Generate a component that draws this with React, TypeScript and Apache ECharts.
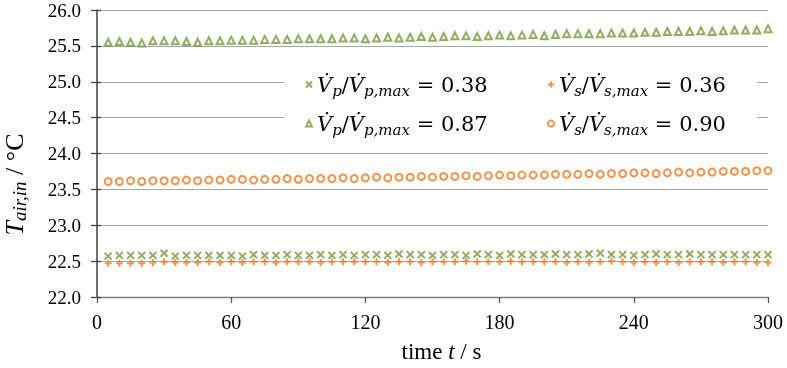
import React, { useEffect, useRef } from "react";
import * as echarts from "echarts";

const times = [5,10,15,20,25,30,35,40,45,50,55,60,65,70,75,80,85,90,95,100,105,110,115,120,125,130,135,140,145,150,155,160,165,170,175,180,185,190,195,200,205,210,215,220,225,230,235,240,245,250,255,260,265,270,275,280,285,290,295,300];

const xTicks = [0, 60, 120, 180, 240, 300];

// V_p/V_p,max = 0.38
const vp038 = [
  22.57, 22.58, 22.58, 22.58, 22.58, 22.61, 22.57, 22.58, 22.58, 22.58,
  22.58, 22.58, 22.57, 22.59, 22.58, 22.58, 22.59, 22.58, 22.58, 22.59,
  22.58, 22.59, 22.58, 22.59, 22.59, 22.58, 22.60, 22.59, 22.59, 22.58,
  22.59, 22.59, 22.58, 22.60, 22.59, 22.58, 22.60, 22.59, 22.59, 22.59,
  22.60, 22.59, 22.59, 22.60, 22.61, 22.59, 22.59, 22.58, 22.59, 22.60,
  22.59, 22.59, 22.60, 22.59, 22.59, 22.59, 22.59, 22.59, 22.59, 22.59,
];
// V_s/V_s,max = 0.36
const vs036 = [
  22.47, 22.47, 22.47, 22.47, 22.48, 22.49, 22.48, 22.48, 22.48, 22.49,
  22.48, 22.49, 22.48, 22.49, 22.49, 22.48, 22.49, 22.49, 22.49, 22.48,
  22.49, 22.49, 22.49, 22.49, 22.49, 22.48, 22.49, 22.49, 22.48, 22.49,
  22.49, 22.49, 22.50, 22.49, 22.49, 22.49, 22.50, 22.49, 22.49, 22.49,
  22.49, 22.48, 22.49, 22.48, 22.49, 22.50, 22.49, 22.48, 22.49, 22.48,
  22.49, 22.48, 22.49, 22.49, 22.49, 22.48, 22.49, 22.49, 22.48, 22.48,
];
// V_p/V_p,max = 0.87
const vp087 = [
  25.55, 25.56, 25.55, 25.54, 25.57, 25.57, 25.57, 25.56, 25.55, 25.57,
  25.57, 25.58, 25.58, 25.58, 25.59, 25.59, 25.59, 25.60, 25.60, 25.60,
  25.60, 25.61, 25.61, 25.60, 25.61, 25.62, 25.61, 25.62, 25.63, 25.62,
  25.63, 25.64, 25.64, 25.63, 25.64, 25.65, 25.64, 25.65, 25.66, 25.64,
  25.66, 25.67, 25.67, 25.67, 25.67, 25.68, 25.68, 25.68, 25.69, 25.69,
  25.70, 25.70, 25.70, 25.71, 25.70, 25.71, 25.72, 25.72, 25.72, 25.74,
];
// V_s/V_s,max = 0.90
const vs090 = [
  23.61, 23.61, 23.62, 23.61, 23.62, 23.62, 23.62, 23.63, 23.62, 23.63,
  23.63, 23.64, 23.64, 23.63, 23.64, 23.64, 23.65, 23.64, 23.65, 23.65,
  23.65, 23.66, 23.65, 23.66, 23.67, 23.66, 23.67, 23.67, 23.68, 23.67,
  23.68, 23.68, 23.69, 23.68, 23.69, 23.70, 23.69, 23.70, 23.70, 23.70,
  23.71, 23.71, 23.71, 23.72, 23.71, 23.72, 23.72, 23.73, 23.73, 23.72,
  23.73, 23.74, 23.73, 23.74, 23.74, 23.75, 23.75, 23.75, 23.76, 23.76,
];

const seriesLabels: Record<string, [string, string, string]> = {
  p038: ["p", "p,max", "0.38"],
  s036: ["s", "s,max", "0.36"],
  p087: ["p", "p,max", "0.87"],
  s090: ["s", "s,max", "0.90"],
};

const GREEN = "#76983A";
const ORANGE = "#F07820";
const SERIF = "Liberation Serif";
const MATH = "DejaVu Serif";

const pair = (vals: number[]) => vals.map((v, i) => [times[i], v]);

export default function App() {
  const ref = useRef<HTMLDivElement>(null);
  useEffect(() => {
    if (!ref.current) return;
    const chart = echarts.init(ref.current, undefined, { renderer: "svg" });
    const V = "V\u0307";
    const legendRich = {
      v: { fontFamily: MATH, fontStyle: "italic", fontSize: 21, lineHeight: 28, verticalAlign: "middle", color: "#000" },
      sub: { fontFamily: MATH, fontStyle: "italic", fontSize: 15, lineHeight: 15, padding: [12, 0, 0, 0], verticalAlign: "middle", color: "#000" },
      n: { fontFamily: MATH, fontSize: 21, lineHeight: 28, verticalAlign: "middle", color: "#000" },
    };
    const fmt = (name: string) => {
      const [a, b, val] = seriesLabels[name];
      return `{v|${V}}{sub|${a}}{n|/}{v|${V}}{sub|${b}}{n| = ${val}}`;
    };
    chart.setOption({
      animation: false,
      grid: { left: 97, right: 19, top: 10, bottom: 71, containLabel: false, outerBoundsMode: "none" },
      graphic: [
        { type: "rect", z: 1, shape: { x: 284, y: 58, width: 473, height: 84 }, style: { fill: "#fff" } },
      ],
      legend: [
        {
          data: ["p038", "p087"], orient: "vertical", left: 300, top: 66, itemGap: 12,
          itemWidth: 6, itemHeight: 6, formatter: fmt, textStyle: { rich: legendRich }, z: 5,
        },
        {
          data: ["s036", "s090"], orient: "vertical", left: 542, top: 66, itemGap: 12,
          itemWidth: 6, itemHeight: 6, formatter: fmt, textStyle: { rich: legendRich }, z: 5,
        },
      ],
      xAxis: {
        type: "value", min: 0, max: 300, interval: 60,
        axisLine: { show: true, lineStyle: { color: "#7F7F7F", width: 1.3 } },
        axisTick: { show: true, length: 6, lineStyle: { color: "#595959", width: 1.3 } },
        axisLabel: { margin: 15, fontFamily: SERIF, fontSize: 20, color: "#000", customValues: xTicks, formatter: (v: number) => String(v) },
        splitLine: { show: false },
        name: "{n|time }{i|t}{n| / s}",
        nameLocation: "middle", nameGap: 43,
        nameTextStyle: {
          padding: [0, 0, 0, 18],
          rich: { n: { fontFamily: SERIF, fontSize: 23, color: "#000" }, i: { fontFamily: SERIF, fontStyle: "italic", fontSize: 23, color: "#000" } },
        },
      },
      yAxis: [
        {
          type: "value", min: 22, max: 26, interval: 0.5,
          axisLine: { show: true, lineStyle: { color: "#404040", width: 1.5 } },
          axisTick: { show: true, length: 6, lineStyle: { color: "#404040", width: 1.3 } },
          axisLabel: { margin: 16, fontFamily: SERIF, fontSize: 19, lineHeight: 19, color: "#000", formatter: (v: number) => v.toFixed(1) },
          splitLine: { show: true, lineStyle: { color: "#A6A6A6", width: 1.2 } },
          name: "{i|T}{s|air,in}{n| / °C}",
          nameLocation: "middle", nameGap: 68,
          nameTextStyle: {
            padding: [0, 62, 0, 0],
            rich: {
              i: { fontFamily: SERIF, fontStyle: "italic", fontSize: 26, lineHeight: 30, verticalAlign: "middle", color: "#000" },
              s: { fontFamily: SERIF, fontStyle: "italic", fontSize: 19, lineHeight: 19, padding: [11, 0, 0, 0], verticalAlign: "middle", color: "#000" },
              n: { fontFamily: SERIF, fontSize: 26, lineHeight: 30, verticalAlign: "middle", color: "#000" },
            },
          },
        },
        {
          type: "value", min: 22, max: 26, interval: 0.5, position: "left",
          axisLine: { show: false },
          axisTick: { show: true, inside: true, length: 4, lineStyle: { color: "#404040", width: 1.3 } },
          axisLabel: { show: false },
          splitLine: { show: false },
        },
      ],
      series: [
        {
          name: "p038", type: "scatter", data: pair(vp038), z: 3,
          symbol: "path://M0,0L10,10M10,0L0,10", symbolSize: 7,
          itemStyle: { color: "transparent", borderColor: GREEN, borderWidth: 2 },
        },
        {
          name: "s036", type: "scatter", data: pair(vs036), z: 2,
          symbol: "path://M5,0L5,10M0,5L10,5", symbolSize: 7,
          itemStyle: { color: "transparent", borderColor: ORANGE, borderWidth: 2 },
        },
        {
          name: "p087", type: "scatter", data: pair(vp087), z: 3,
          symbol: "triangle", symbolSize: 7,
          itemStyle: { color: "#fff", borderColor: GREEN, borderWidth: 2 },
        },
        {
          name: "s090", type: "scatter", data: pair(vs090), z: 3,
          symbol: "circle", symbolSize: 7,
          itemStyle: { color: "#fff", borderColor: ORANGE, borderWidth: 2 },
        },
      ],
    });
    return () => chart.dispose();
  }, []);
  return <div ref={ref} style={{ position: "fixed", left: 0, top: 0, width: 787, height: 368 }} />;
}
